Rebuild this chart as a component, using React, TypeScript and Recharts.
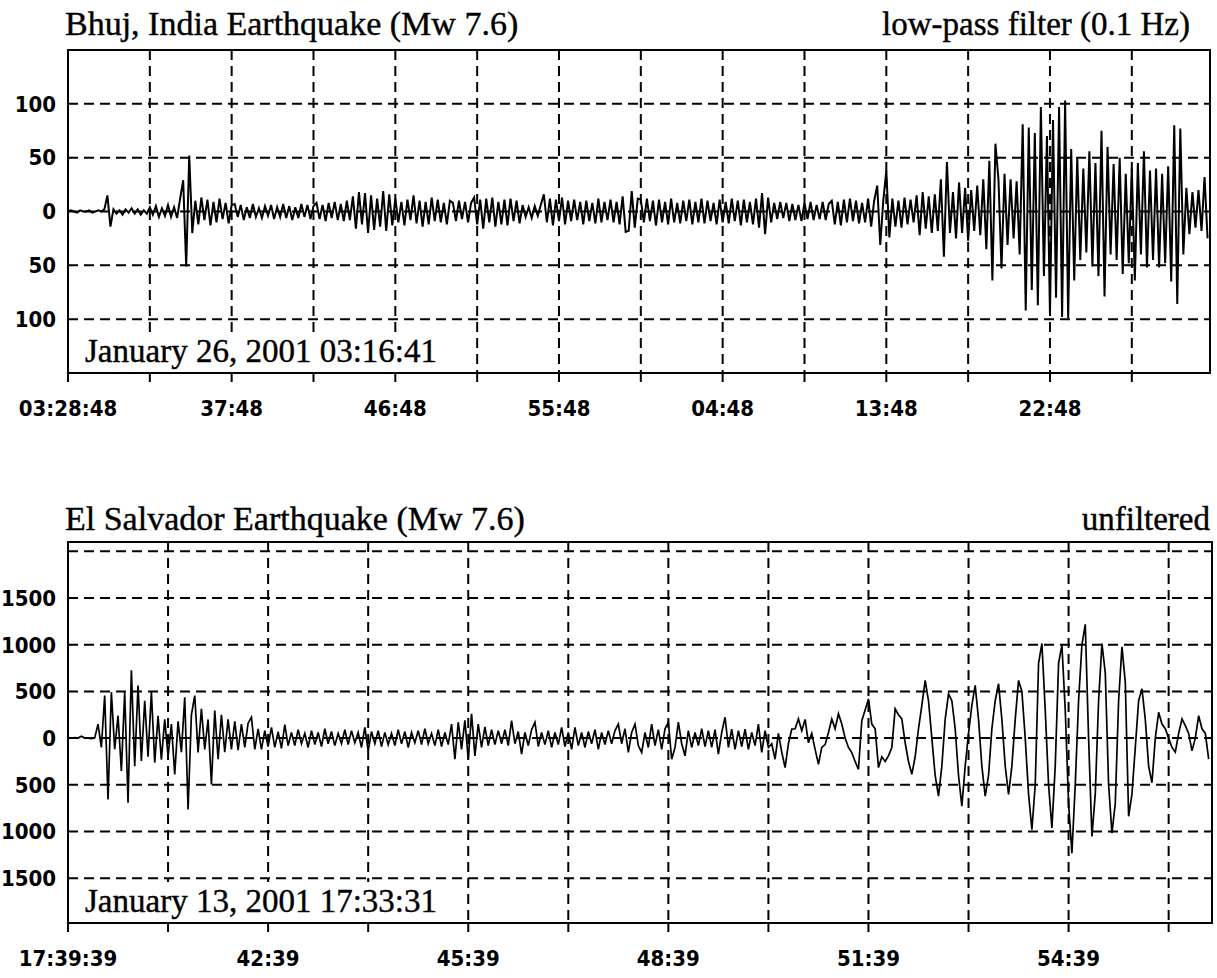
import React from 'react'
import { LineChart, Line, XAxis, YAxis, CartesianGrid, ReferenceArea } from 'recharts'

// Bhuj, low-pass trace: one sample every 10 s from 03:28:48
const bhujStep = 10
const bhujValues = [
    0, 1, 0, -1, 1, 0, 0, 1, -1, 0, 1, 0,
    2, 15, -14,
    2, -2, 1, -3, 2, -1, 3, -2, 2, -3, 1, -2,
    4, -3, 5, -5, 3, -4, 6, -5, 4, -6,
    12, 29, -51, 52, -20,
    10, -12, 13, -8, 11, -13, 9, -10, 12, -7, 8, -11, 6,
    7, -5, 6, -8, 4, -6, 7, -5, 3, -6, 5, -4, 6, -7, 4, -5, 7, -6, 5, -8, 4, -6, 7, -5, 6, -7, 5,
    8, -7, 6, -9, 8, -6, 9, -8, 7, -9, 10, -8,
    14, -16, 18, -12, 17, -20, 15, -17, 12, -14, 19, -18, 16, -13,
    12, -10, 9, -13, 11, -8, 15, -11, 10, -14, 9, -12, 13, -9, 11, -10, 8, -12, 10,
    8, -9, 10, -7, 9, -10, 8,
    13, -12, 11, -16, 12, -10, 13, -14, 9, -12, 11, -13, 12, -9, 10, -11,
    6, -5, 4, -6, 5, -4, 6,
    16, -10, 12, -13, 11, -9, 13, -12,
    10, -9, 11, -8, 9, -12, 10, -9, 8, -11, 12, -10, 9, -8, 11, -10, 9, -12,
    14, -19, -18, 19, -15, 12,
    11, -10, 12, -9, 10, -13, 11, -10, 9, -12, 12, -10, 8, -11, 10, -9, 11, -12, 9, -10,
    12, -11, 10, -9, 8, -12, 11, -10, 9, -11, 12, -9, 10, -13, 11, -10, 9, -12,
    12, -15, 17, -21, 13, -10,
    8, -7, 9, -6, 8, -9, 7, -8, 6, -9, 8, -7, 9, -8, 6, -7, 9, -8, 7,
    10, -12, 9, -13, 11, -10, 12, -9, 10, -11,
    8, -10, 12, -14, 10, 24, -31, 10, 38,
    -24, 12, -14, 10, -15, 13, -12, 11, -10,
    15, -22, 18, -16, 14, -20, 16, -18,
    30, -42, 46, -20,
    18, -25, 27, -20, 22, -27, 20, -18, 24, -22,
    30, -35, 47, -64, 63, 30, -53, 35,
    -31, 30, -25, 28,
    -40, 81, -92, 78, -73, 73, -87, 97, -60, 70, -95,
    85, -80, 97, -98, 103, -99,
    58, -64, 50, -45, 40, -38,
    56, -51, 45, -60, 75, -79, 60, -40,
    44, -45, 50, -58, 35, -48, 40,
    -64, 45, -40, 56, -52, 38, -45, 40, -52, 35, -48, 42,
    -65, 80, -86, 77,
    -40, 22, -21, 18, -15, 20, -18, 32, -25,
]
const bhujDomain = [0, 3768]
const bhujTicks = [0, 270, 540, 810, 1080, 1350, 1620, 1890, 2160, 2430, 2700, 2970, 3240, 3510]
const bhujTickLabels = ['03:28:48', '', '37:48', '', '46:48', '', '55:48', '', '04:48', '', '13:48', '', '22:48', '']
const bhujYDomain = [-150, 150]
const bhujYTicks = [-100, -50, 0, 50, 100]

// El Salvador, unfiltered trace: one sample every 3 s from 17:39:39
const salvStep = 3
const salvValues = [
    0, 0, 5, 0, 20, 0, 0, -5, 0,
    150, -100,
    456, -657, 492, -120, 240, -352, 492, -693, 726, -300, 564, -244, 400, -200, 492, -262, 240, -230, 200, -190,
    150, -388, 180, -150, 438, -765, 250, 456, -154, 313, -120, 200, -496, 295, -226, 250, -150, 200, -120, 180,
    -130, 150, -100, 160, 223, -120,
    100, -120, 80, -90, 115, -100, 70, -110, 144, -80,
    60, -80, 90, -60, 50, -100, 80, -70, 60, -90, 100, -60, 70, -80, 50, -60, 90, -70, 80, -50,
    60, -100, 115, -136, 70, -60, 80, -90, 60, -70, 50, -80, 90, -60, 70, -100, 60, -50, 80, -70,
    100, -60, 50, -80, 90, -90, 60, -70, 150,
    -226, 170, -120, 190, -226, 259, -190, 150, -100, 120, -80, 90,
    -70, 80, -60, 90, -80, 187, -60, 70, -172, 60, -80, 90, 170, -90, 60, -70, 80, -100, 60, -70, 115, -90,
    60, -120, 115, -80, 60, -100, 70, -60, 90, -120, 60, -70, 80, -60,
    80, 150, -60, 100, -154, 60, 150, -80, -154,
    60, -100, 150, -80, 90, -120, 100, 170, -226, -100,
    170, -60, -190, 80, -100, 60, -80, 100,
    -90, 80, -100, 90, -172, 60,
    223,
    -100, 97, -120, 80, -90, 97, -120, 60, -80,
    150, -154, 80, -100,
    -60, -226, 50, -150, -316, -60, 97, 100,
    205, 80, 200, -50, 50, -120, -280,
    -100, -70, 60, 205, 100,
    260,
    150, 0, -100, -155, -250, -334,
    187, 300, 420, 150, 100,
    -316, -200, -250, -190, -100,
    313, 250, 205, -50, -250,
    -388,
    -200, 100, 350, 618, 400,
    0, -400, -622, -300,
    200, 474, 400, 100,
    -400, -729, -300,
    50, 350, 564, 200,
    -300, -622, -400,
    100, 400, 582, 200,
    -300, -604, -300,
    200, 618, 500, 0,
    -600, -981, -500,
    800, 1013, 300,
    -500, -963, -300,
    800, 995, 300,
    -700, -1232, -500,
    400, 1000, 1218,
    0, -1053, -600,
    400, 1013, 700,
    -500, -1017, -700,
    400, 977, 600,
    -837, -600, -100,
    400, 528, 200,
    -300, -478, 0,
    277, 150, 100, 0,
    -100, -150, 50, 205,
    133, 50, -137, 0,
    240, 100, 50, -226,
]
const salvDomain = [0, 1029]
const salvTicks = [0, 90, 180, 270, 360, 450, 540, 630, 720, 810, 900, 990]
const salvTickLabels = ['17:39:39', '', '42:39', '', '45:39', '', '48:39', '', '51:39', '', '54:39', '']
const salvYDomain = [-1980, 2100]
const salvYTicks = [-1500, -1000, -500, 0, 500, 1000, 1500, 2000]
const salvYHidden = [2000]

const toRows = (values: number[], step: number) => values.map((v, i) => ({ t: i * step, v }))

const tickStyle = { fill: '#000', fontSize: 22, fontWeight: 700 }

interface SeismoProps {
    rows: { t: number, v: number }[]
    height: number
    margin: { top: number, right: number, bottom: number, left: number }
    xDomain: number[]
    xTicks: number[]
    xLabels: string[]
    yDomain: number[]
    yTicks: number[]
    yHidden?: number[]
    xAxisHeight: number
    lineWidth: number
}

function Seismogram({ rows, height, margin, xDomain, xTicks, xLabels, yDomain, yTicks, yHidden = [], xAxisHeight, lineWidth }: SeismoProps) {
    return (
        <LineChart width={1217} height={height} data={rows} margin={margin}>
            <CartesianGrid stroke="#000" strokeWidth={2} strokeDasharray="10 6" />
            <XAxis
                dataKey="t"
                type="number"
                domain={xDomain}
                ticks={xTicks}
                interval={0}
                height={xAxisHeight}
                axisLine={false}
                tickSize={9}
                tickMargin={18}
                tickLine={{ stroke: '#000', strokeWidth: 2 }}
                tick={tickStyle}
                tickFormatter={(v: number) => xLabels[xTicks.indexOf(v)] ?? ''}
            />
            <YAxis
                type="number"
                domain={yDomain}
                ticks={yTicks}
                interval={0}
                width={68}
                axisLine={false}
                tickLine={false}
                tickSize={0}
                tickMargin={12}
                tick={tickStyle}
                tickFormatter={(v: number) => (yHidden.includes(v) ? '' : String(Math.abs(v)))}
            />
            <ReferenceArea
                x1={xDomain[0]}
                x2={xDomain[1]}
                y1={yDomain[0]}
                y2={yDomain[1]}
                fill="none"
                stroke="#000"
                strokeWidth={2}
                ifOverflow="visible"
            />
            <Line
                type="linear"
                dataKey="v"
                stroke="#000"
                strokeWidth={lineWidth}
                dot={false}
                isAnimationActive={false}
            />
        </LineChart>
    )
}

const serif = '"Liberation Serif", "Times New Roman", serif'

export default function App() {
    return (
        <div
            style={{
                position: 'absolute',
                left: 0,
                top: 0,
                width: 1217,
                height: 978,
                background: '#fff',
                fontFamily: '"DejaVu Sans Condensed", "DejaVu Sans", sans-serif',
                fontStretch: 'condensed',
            }}
        >
            <div style={{ position: 'absolute', left: 0, top: 0 }}>
                <Seismogram
                    rows={toRows(bhujValues, bhujStep)}
                    height={430}
                    margin={{ top: 50, right: 7, bottom: 0, left: 0 }}
                    xAxisHeight={57}
                    xDomain={bhujDomain}
                    xTicks={bhujTicks}
                    xLabels={bhujTickLabels}
                    yDomain={bhujYDomain}
                    yTicks={bhujYTicks}
                    lineWidth={2}
                />
            </div>
            <div style={{ position: 'absolute', left: 0, top: 490 }}>
                <Seismogram
                    rows={toRows(salvValues, salvStep)}
                    height={488}
                    margin={{ top: 52, right: 5, bottom: 0, left: 0 }}
                    xAxisHeight={55}
                    xDomain={salvDomain}
                    xTicks={salvTicks}
                    xLabels={salvTickLabels}
                    yDomain={salvYDomain}
                    yTicks={salvYTicks}
                    yHidden={salvYHidden}
                    lineWidth={1.7}
                />
            </div>
            <svg
                width={1217}
                height={978}
                style={{ position: 'absolute', left: 0, top: 0, pointerEvents: 'none' }}
                fontFamily={serif}
                stroke="#000"
                strokeWidth={0.4}
            >
                <text x={65} y={35} fontSize={34}>Bhuj, India Earthquake (Mw 7.6)</text>
                <text x={1190} y={35} fontSize={33} textAnchor="end">low-pass filter (0.1 Hz)</text>
                <rect x={70} y={333} width={376} height={39} fill="#fff" stroke="none" />
                <text x={85} y={362} fontSize={33}>January 26, 2001 03:16:41</text>

                <text x={65} y={530} fontSize={34}>El Salvador Earthquake (Mw 7.6)</text>
                <text x={1210} y={530} fontSize={33} textAnchor="end">unfiltered</text>
                <rect x={70} y={882} width={376} height={40} fill="#fff" stroke="none" />
                <text x={85} y={912} fontSize={33}>January 13, 2001 17:33:31</text>
            </svg>
        </div>
    )
}
